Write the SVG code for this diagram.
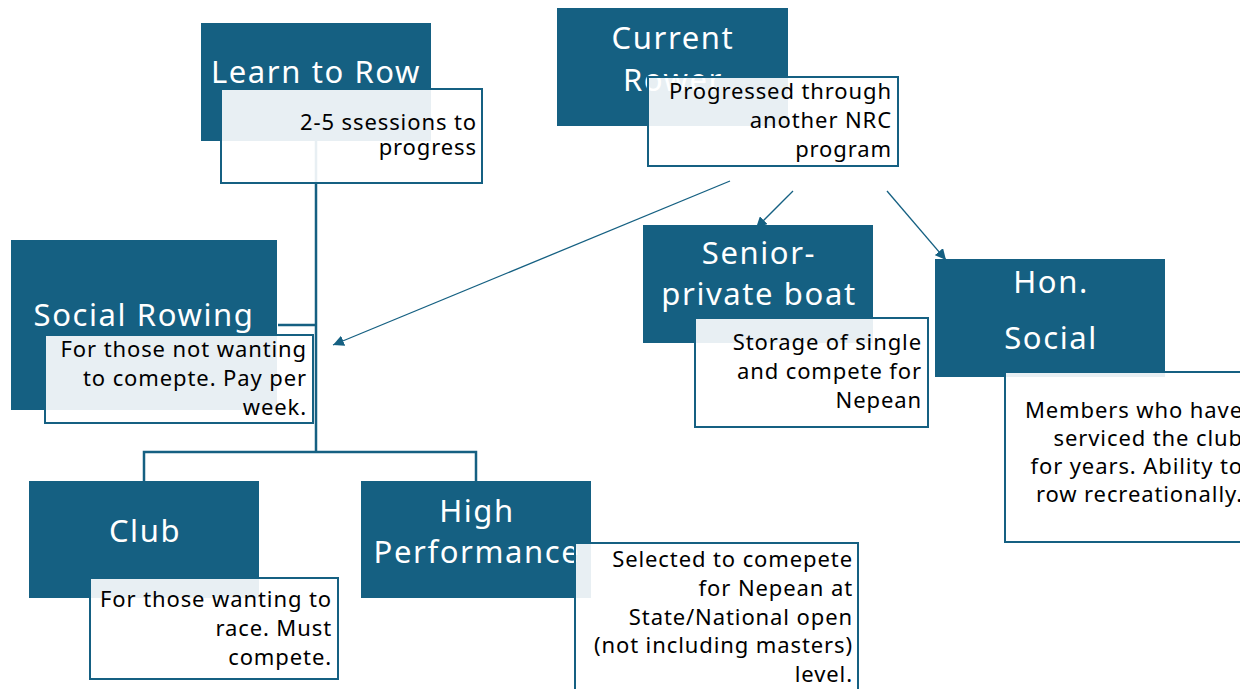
<svg xmlns="http://www.w3.org/2000/svg" width="1240" height="689" viewBox="0 0 1240 689">
<style>
.node{fill:#156082;}
.box{fill:#ffffff;fill-opacity:0.9;stroke:#156082;stroke-width:2;}
.title{font-family:"Noto Sans","Liberation Sans",sans-serif;font-size:31px;letter-spacing:1.6px;fill:#ffffff;text-anchor:middle;}
.desc{font-family:"Noto Sans","Liberation Sans",sans-serif;font-size:22px;letter-spacing:0.9px;fill:#000000;text-anchor:end;}
.trunk{stroke:#156082;stroke-width:2.5;fill:none;}
.arrow{stroke:#156082;stroke-width:1.3;fill:none;}
</style>
<defs>
<marker id="ah" viewBox="0 0 10 10" refX="10" refY="5" markerWidth="11" markerHeight="11" markerUnits="userSpaceOnUse" orient="auto">
<path d="M0,0 L10,5 L0,10 Z" fill="#156082"/>
</marker>
</defs>
<rect width="1240" height="689" fill="#ffffff"/>
<g id="connectors">
<path class="trunk" d="M316,141 V451"/>
<path class="trunk" d="M278,325 H316"/>
<path class="trunk" d="M144,481 V452 H476 V481"/>
<line class="arrow" x1="730" y1="181" x2="333" y2="345" marker-end="url(#ah)"/>
<line class="arrow" x1="793" y1="191" x2="756" y2="228" marker-end="url(#ah)"/>
<line class="arrow" x1="887" y1="191" x2="946" y2="260" marker-end="url(#ah)"/>
</g>
<g id="learn-to-row">
<rect class="node" x="201" y="23" width="230" height="118"/>
<text class="title" x="316" y="83">Learn to Row</text>
<rect class="box" x="221" y="89" width="261" height="94"/>
<text class="desc" x="477" y="130">2-5 ssessions to</text>
<text class="desc" x="477" y="155">progress</text>
</g>
<g id="current-rower">
<rect class="node" x="557" y="8" width="231" height="118"/>
<text class="title" x="673" y="49">Current</text>
<text class="title" x="673" y="91">Rower</text>
<rect class="box" x="648" y="77" width="250" height="89"/>
<text class="desc" x="892" y="99">Progressed through</text>
<text class="desc" x="892" y="128">another NRC</text>
<text class="desc" x="892" y="157">program</text>
</g>
<g id="social-rowing">
<rect class="node" x="11" y="240" width="266" height="170"/>
<text class="title" x="144" y="326">Social Rowing</text>
<rect class="box" x="45" y="335" width="268" height="88"/>
<text class="desc" x="307" y="357">For those not wanting</text>
<text class="desc" x="307" y="386">to comepte. Pay per</text>
<text class="desc" x="307" y="415">week.</text>
</g>
<g id="senior-private-boat">
<rect class="node" x="643" y="225" width="230" height="118"/>
<text class="title" x="759" y="264">Senior-</text>
<text class="title" x="759" y="305">private boat</text>
<rect class="box" x="695" y="318" width="233" height="109"/>
<text class="desc" x="922" y="350">Storage of single</text>
<text class="desc" x="922" y="379">and compete for</text>
<text class="desc" x="922" y="408">Nepean</text>
</g>
<g id="hon-social">
<rect class="node" x="935" y="259" width="230" height="118"/>
<text class="title" x="1051" y="293">Hon.</text>
<text class="title" x="1051" y="349">Social</text>
<rect class="box" x="1005" y="372" width="250" height="170"/>
<text class="desc" x="1243" y="418">Members who have</text>
<text class="desc" x="1243" y="446">serviced the club</text>
<text class="desc" x="1243" y="474">for years. Ability to</text>
<text class="desc" x="1243" y="502">row recreationally.</text>
</g>
<g id="club">
<rect class="node" x="29" y="481" width="230" height="117"/>
<text class="title" x="145" y="542">Club</text>
<rect class="box" x="90" y="578" width="248" height="101"/>
<text class="desc" x="332" y="607">For those wanting to</text>
<text class="desc" x="332" y="636">race. Must</text>
<text class="desc" x="332" y="665">compete.</text>
</g>
<g id="high-performance">
<rect class="node" x="361" y="481" width="230" height="117"/>
<text class="title" x="477" y="522">High</text>
<text class="title" x="477" y="563">Performance</text>
<rect class="box" x="575" y="543" width="283" height="160"/>
<text class="desc" x="853" y="567">Selected to comepete</text>
<text class="desc" x="853" y="596">for Nepean at</text>
<text class="desc" x="853" y="625">State/National open</text>
<text class="desc" x="853" y="653">(not including masters)</text>
<text class="desc" x="853" y="682">level.</text>
</g>
</svg>
